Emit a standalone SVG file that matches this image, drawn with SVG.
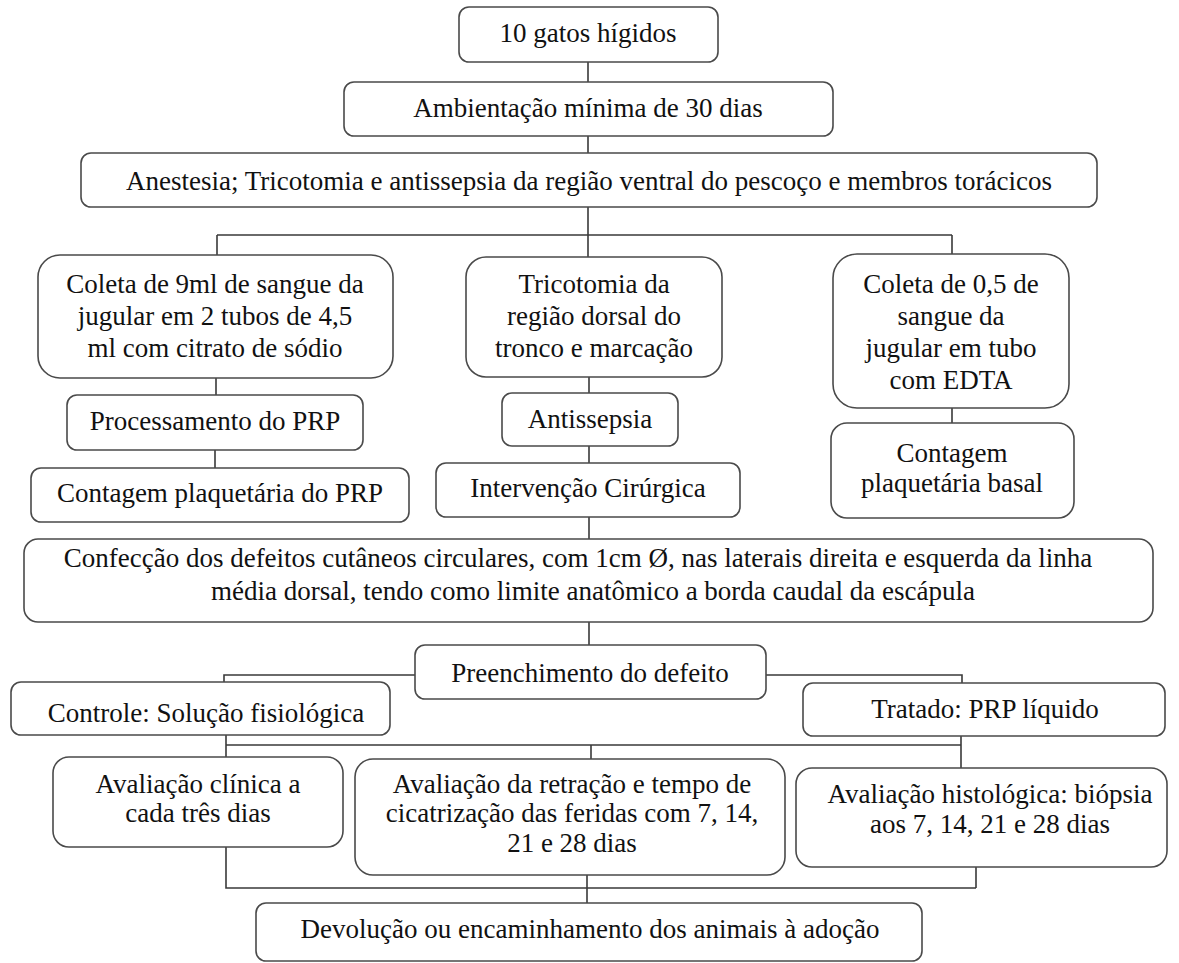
<svg xmlns="http://www.w3.org/2000/svg" width="1179" height="963" viewBox="0 0 1179 963">
<style>
.b{fill:#fff;stroke:#4a4a4a;stroke-width:1.6}
.t{font-size:27px;fill:#111;text-anchor:middle}
.c{fill:none;stroke:#3a3a3a;stroke-width:1.6}
</style>
<rect width="1179" height="963" fill="#fff"/>
<g id="connectors">
<path class="c" d="M588 62V82M588 136V153M588 207V235M217 235H952M217 235V255M588 235V257M952 235V254M216 378V395M215 450V468M589 377V393M589 446V463M589 517V539M952 408V423M589 622V645M415 675H224V682M766 675H962V683M226 735V757M226 745H961M961 736V768M591 745V759M226 847V888H976M976 867V888M587 875V903"/>
</g>
<g font-family="'Liberation Serif', serif">
<g id="n1"><rect class="b" x="459" y="7" width="259" height="55" rx="10"/><text class="t" x="588" y="42">10 gatos hígidos</text></g>
<g id="n2"><rect class="b" x="344" y="82" width="489" height="54" rx="10"/><text class="t" x="588" y="117">Ambientação mínima de 30 dias</text></g>
<g id="n3"><rect class="b" x="81" y="153" width="1016" height="54" rx="10"/><text class="t" x="589" y="190">Anestesia; Tricotomia e antissepsia da região ventral do pescoço e membros torácicos</text></g>
<g id="n4"><rect class="b" x="38" y="255" width="355" height="123" rx="22"/><text class="t" x="215" y="293">Coleta de 9ml de sangue da</text><text class="t" x="215" y="325">jugular em 2 tubos de 4,5</text><text class="t" x="215" y="357">ml com citrato de sódio</text></g>
<g id="n5"><rect class="b" x="466" y="257" width="256" height="120" rx="20"/><text class="t" x="594" y="293">Tricotomia da</text><text class="t" x="594" y="325">região dorsal do</text><text class="t" x="594" y="357">tronco e marcação</text></g>
<g id="n6"><rect class="b" x="833" y="254" width="236" height="154" rx="24"/><text class="t" x="951" y="293">Coleta de 0,5 de</text><text class="t" x="951" y="325">sangue da</text><text class="t" x="951" y="357">jugular em tubo</text><text class="t" x="951" y="389">com EDTA</text></g>
<g id="n7"><rect class="b" x="67" y="395" width="296" height="55" rx="10"/><text class="t" x="215" y="430">Processamento do PRP</text></g>
<g id="n8"><rect class="b" x="502" y="393" width="176" height="53" rx="10"/><text class="t" x="590" y="428">Antissepsia</text></g>
<g id="n9"><rect class="b" x="831" y="423" width="243" height="95" rx="16"/><text class="t" x="952" y="462">Contagem</text><text class="t" x="952" y="492">plaquetária basal</text></g>
<g id="n10"><rect class="b" x="31" y="468" width="378" height="54" rx="10"/><text class="t" x="220" y="502">Contagem plaquetária do PRP</text></g>
<g id="n11"><rect class="b" x="436" y="463" width="304" height="54" rx="10"/><text class="t" x="588" y="497">Intervenção Cirúrgica</text></g>
<g id="n12"><rect class="b" x="24" y="539" width="1129" height="83" rx="14"/><text class="t" x="578" y="567">Confecção dos defeitos cutâneos circulares, com 1cm Ø, nas laterais direita e esquerda da linha</text><text class="t" x="593" y="600">média dorsal, tendo como limite anatômico a borda caudal da escápula</text></g>
<g id="n13"><rect class="b" x="415" y="645" width="351" height="54" rx="10"/><text class="t" x="590" y="682">Preenchimento do defeito</text></g>
<g id="n14"><rect class="b" x="11" y="682" width="379" height="53" rx="10"/><text class="t" x="206" y="722">Controle: Solução fisiológica</text></g>
<g id="n15"><rect class="b" x="803" y="683" width="362" height="53" rx="10"/><text class="t" x="985" y="718">Tratado: PRP líquido</text></g>
<g id="n16"><rect class="b" x="53" y="757" width="290" height="90" rx="16"/><text class="t" x="198" y="793">Avaliação clínica a</text><text class="t" x="198" y="822">cada três dias</text></g>
<g id="n17"><rect class="b" x="355" y="759" width="430" height="116" rx="18"/><text class="t" x="572" y="793">Avaliação da retração e tempo de</text><text class="t" x="572" y="822">cicatrização das feridas com 7, 14,</text><text class="t" x="572" y="852">21 e 28 dias</text></g>
<g id="n18"><rect class="b" x="796" y="768" width="371" height="99" rx="16"/><text class="t" x="990" y="803">Avaliação histológica: biópsia</text><text class="t" x="990" y="833">aos 7, 14, 21 e 28 dias</text></g>
<g id="n19"><rect class="b" x="256" y="903" width="666" height="58" rx="10"/><text class="t" x="590" y="938">Devolução ou encaminhamento dos animais à adoção</text></g>
</g>
</svg>
